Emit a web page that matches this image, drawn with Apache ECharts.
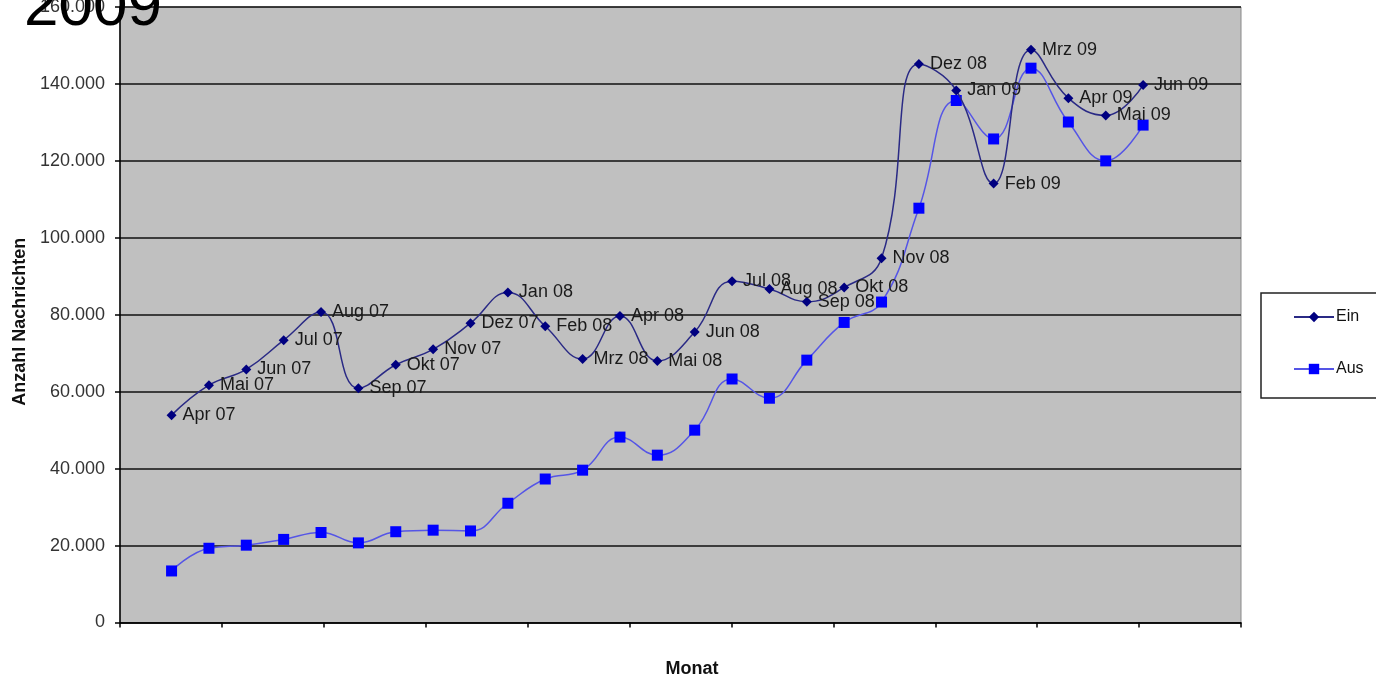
<!DOCTYPE html>
<html>
<head>
<meta charset="utf-8">
<script src="https://cdn.jsdelivr.net/npm/echarts@6/dist/echarts.min.js"></script>
<style>
html,body{margin:0;padding:0;background:#fff;overflow:hidden;}
#c{width:1376px;height:677px;}
</style>
</head>
<body>
<div id="c"></div>
<script>
const months = ["Apr 07","Mai 07","Jun 07","Jul 07","Aug 07","Sep 07","Okt 07","Nov 07","Dez 07",
  "Jan 08","Feb 08","Mrz 08","Apr 08","Mai 08","Jun 08","Jul 08","Aug 08","Sep 08","Okt 08","Nov 08","Dez 08",
  "Jan 09","Feb 09","Mrz 09","Apr 09","Mai 09","Jun 09"];
const ein = [53900,61700,65800,73400,80700,60900,67000,71000,77800,
  85800,77000,68500,79700,68000,75500,88700,86700,83400,87100,94700,145200,
  138300,114100,148900,136300,131800,139700];
const aus = [13400,19300,20100,21600,23400,20700,23600,24000,23800,
  31000,37300,39600,48200,43500,50000,63300,58300,68200,78000,83300,107700,
  135700,125700,144100,130100,120000,129300];
const yTicks = [0,20000,40000,60000,80000,100000,120000,140000,160000];
const xStart = 1.38;   // position of first month on the month-scale axis
const xRange = 30;     // months spanned by the plot
const xTickCount = 11;

const fmt = v => String(v).replace(/\B(?=(\d{3})+(?!\d))/g, '.');

const einData = months.map((m,i)=>({value:[xStart+i, ein[i]], name:m}));
const ausData = months.map((m,i)=>[xStart+i, aus[i]]);

const FONT = 'Liberation Sans, Arial, sans-serif';
const chart = echarts.init(document.getElementById('c'), null, {renderer:'canvas'});
chart.setOption({
  animation:false,
  backgroundColor:'#fff',
  title:{text:'2009', left:19, top:-28, textStyle:{fontFamily:FONT, fontSize:62, fontWeight:'normal', color:'#000'}},
  grid:{left:120, width:1121, top:7, height:615.5, show:true, backgroundColor:'#c0c0c0', borderColor:'#8a8a8a', borderWidth:1, containLabel:false, outerBoundsMode:'none'},
  legend:{
    orient:'vertical', left:1261, top:293,
    backgroundColor:'#fff', borderColor:'#222', borderWidth:1.5,
    padding:[16,24,21,32], itemGap:36, itemWidth:40, itemHeight:13,
    textStyle:{fontFamily:FONT, fontSize:16, color:'#111', padding:[0,0,0,-3]},
    data:['Ein','Aus']
  },
  xAxis:{
    type:'value', min:0, max:xRange, interval:xRange/xTickCount,
    axisLine:{show:true, lineStyle:{color:'#000', width:1.5}},
    axisTick:{show:true, length:5, lineStyle:{color:'#000', width:1.5}},
    axisLabel:{show:false}, splitLine:{show:false},
    name:'Monat', nameLocation:'middle', nameGap:38,
    nameTextStyle:{fontFamily:FONT, fontSize:18, fontWeight:'bold', color:'#111', padding:[0,0,0,23]}
  },
  yAxis:{
    type:'value', min:0, max:160000, interval:20000,
    axisLine:{show:true, lineStyle:{color:'#000', width:1.5}},
    axisTick:{show:true, length:5, lineStyle:{color:'#000', width:1.5}},
    axisLabel:{fontFamily:FONT, fontSize:18, color:'#333', margin:15,
      formatter: v => yTicks.includes(v) ? fmt(v) : ''},
    splitLine:{show:true, lineStyle:{color:'#111', width:1.5}},
    name:'Anzahl Nachrichten', nameLocation:'middle', nameGap:90, nameRotate:90,
    nameTextStyle:{fontFamily:FONT, fontSize:18, fontWeight:'bold', color:'#111', padding:[0,14,0,0]}
  },
  series:[
    {
      name:'Ein', type:'line', data:einData, smooth:0.45,
      symbol:'diamond', symbolSize:10,
      itemStyle:{color:'#000080'},
      lineStyle:{color:'#2a2a85', width:1.5},
      label:{show:true, position:'right', distance:6, formatter:p=>p.name,
        fontFamily:FONT, fontSize:18, color:'#1a1a1a'},
      z:3
    },
    {
      name:'Aus', type:'line', data:ausData, smooth:0.45,
      symbol:'rect', symbolSize:11,
      itemStyle:{color:'#0000ff'},
      lineStyle:{color:'#5555e6', width:1.5},
      z:2
    }
  ]
});
</script>
</body>
</html>
